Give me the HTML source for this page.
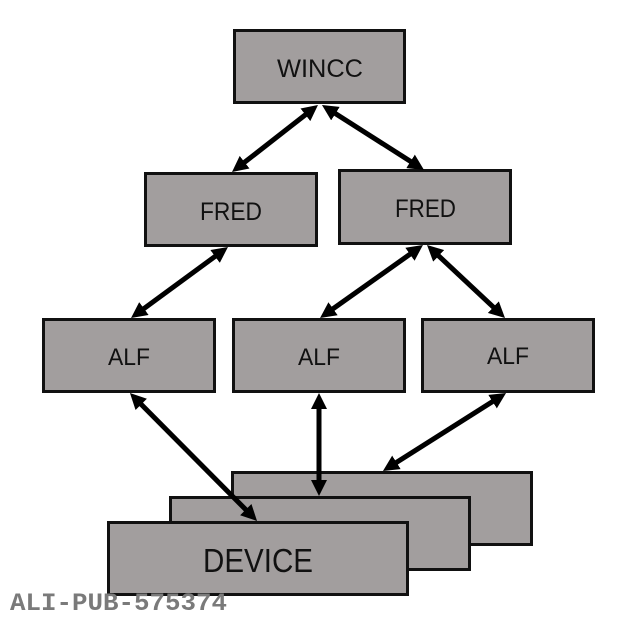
<!DOCTYPE html>
<html>
<head>
<meta charset="utf-8">
<style>
  html, body { margin: 0; padding: 0; background: #ffffff; }
  svg { display: block; }
</style>
</head>
<body>
<svg width="620" height="620" viewBox="0 0 620 620" xmlns="http://www.w3.org/2000/svg">
  <defs>
    <marker id="ae" markerUnits="userSpaceOnUse" markerWidth="16" markerHeight="16" refX="6" refY="8" orient="auto">
      <path d="M0,0 L16,8 L0,16 z" fill="#000"/>
    </marker>
    <marker id="as" markerUnits="userSpaceOnUse" markerWidth="16" markerHeight="16" refX="10" refY="8" orient="auto">
      <path d="M16,0 L0,8 L16,16 z" fill="#000"/>
    </marker>
  </defs>

  <g fill="#a29e9e" stroke="#111" stroke-width="3">
    <rect x="234.5" y="30.5" width="170" height="72"/>
    <rect x="145.5" y="173.5" width="171" height="72"/>
    <rect x="339.5" y="170.5" width="171" height="73"/>
    <rect x="43.5" y="319.5" width="171" height="72"/>
    <rect x="233.5" y="319.5" width="171" height="72"/>
    <rect x="422.5" y="319.5" width="171" height="72"/>
    <rect x="232.5" y="472.5" width="299" height="72"/>
    <rect x="170.5" y="497.5" width="299" height="72"/>
    <rect x="108.5" y="522.5" width="299" height="72"/>
  </g>

  <g font-family="'Liberation Sans', 'DejaVu Sans', sans-serif" fill="#111">
    <text x="277" y="77" font-size="25" textLength="86" lengthAdjust="spacingAndGlyphs">WINCC</text>
    <text x="200" y="220" font-size="25" textLength="62" lengthAdjust="spacingAndGlyphs">FRED</text>
    <text x="395" y="217" font-size="25" textLength="61" lengthAdjust="spacingAndGlyphs">FRED</text>
    <text x="108" y="365" font-size="24" textLength="42" lengthAdjust="spacingAndGlyphs">ALF</text>
    <text x="298" y="365" font-size="24" textLength="42" lengthAdjust="spacingAndGlyphs">ALF</text>
    <text x="487" y="364" font-size="24" textLength="42" lengthAdjust="spacingAndGlyphs">ALF</text>
    <text x="203" y="572" font-size="33" textLength="110" lengthAdjust="spacingAndGlyphs">DEVICE</text>
  </g>

  <g stroke="#000" stroke-width="5" fill="none" marker-start="url(#as)" marker-end="url(#ae)">
    <line x1="310.1" y1="111.1" x2="239.9" y2="165.9"/>
    <line x1="330.4" y1="110.4" x2="415.6" y2="164.6"/>
    <line x1="219.9" y1="252.9" x2="139.1" y2="312.1"/>
    <line x1="414.8" y1="250.8" x2="328.2" y2="312.2"/>
    <line x1="434.3" y1="251.8" x2="497.7" y2="311.2"/>
    <line x1="137.0" y1="400.1" x2="250.0" y2="513.9"/>
    <line x1="319" y1="403" x2="319" y2="486"/>
    <line x1="497.6" y1="398.4" x2="391.4" y2="465.6"/>
  </g>

  <text x="10" y="610" font-family="'Liberation Mono', 'DejaVu Sans Mono', monospace" font-weight="bold" font-size="25" fill="#7a7a7a" textLength="217" lengthAdjust="spacingAndGlyphs">ALI-PUB-575374</text>
</svg>
</body>
</html>
